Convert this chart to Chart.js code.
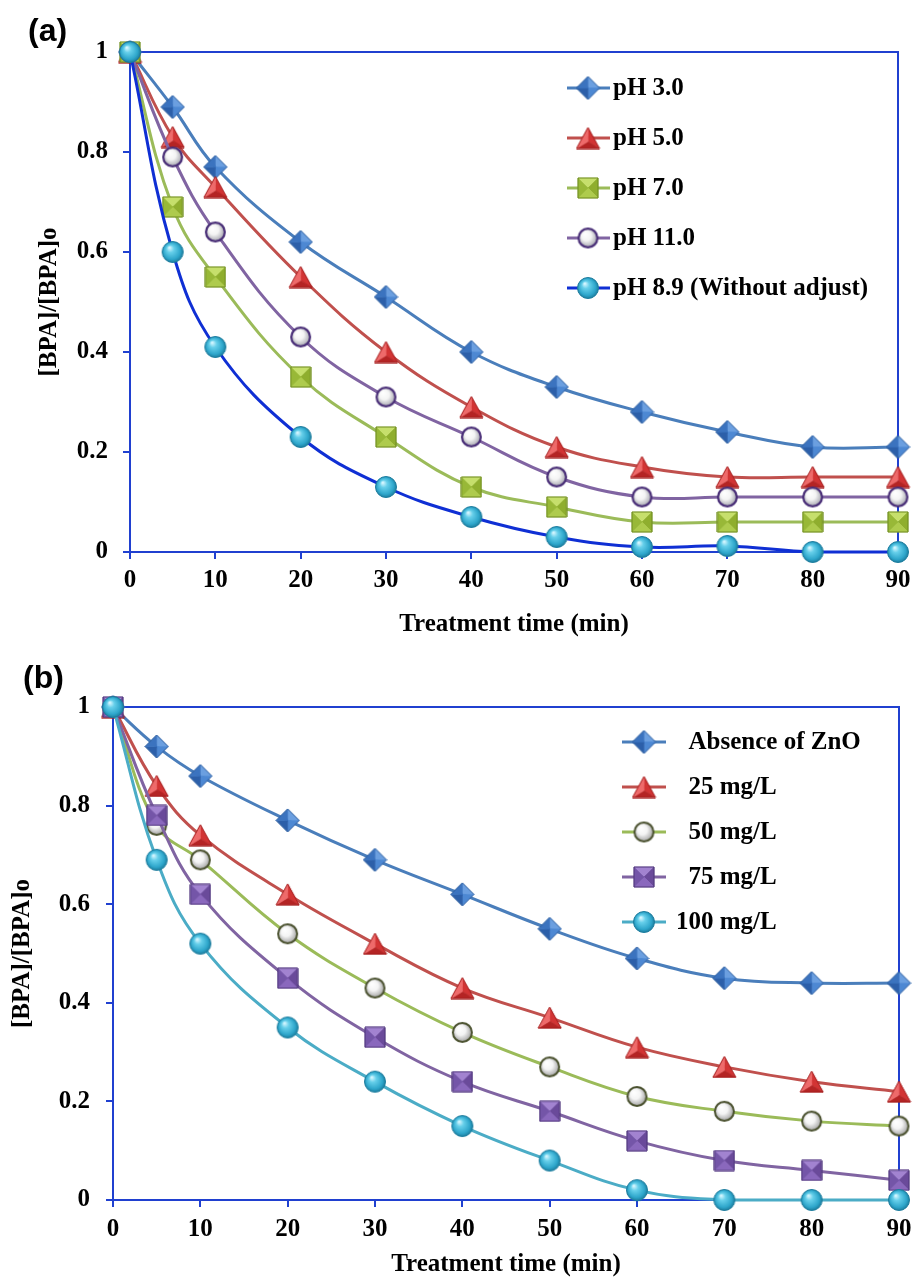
<!DOCTYPE html>
<html><head><meta charset="utf-8">
<script src="https://cdn.jsdelivr.net/npm/chart.js@4.4.0/dist/chart.umd.min.js"></script>
<style>
html,body{margin:0;padding:0;background:#fff;}
#wa{position:absolute;left:0;top:0;width:912px;height:645px;}
#wb{position:absolute;left:0;top:645px;width:912px;height:633px;}
</style></head><body>
<div id="wa"><canvas id="ca"></canvas></div>
<div id="wb"><canvas id="cb"></canvas></div>
<script>
// ---------- data ----------
const time = [0, 5, 10, 20, 30, 40, 50, 60, 70, 80, 90];
const xTickValues = [0, 10, 20, 30, 40, 50, 60, 70, 80, 90];
const yTickValues = [0, 0.2, 0.4, 0.6, 0.8, 1];
const yTickLabels = ['0', '0.2', '0.4', '0.6', '0.8', '1'];

// panel (a): effect of pH
const labelsA = ['pH 3.0', 'pH 5.0', 'pH 7.0', 'pH 11.0', 'pH 8.9 (Without adjust)'];
const pH30  = [1, 0.89, 0.77, 0.62, 0.51, 0.40, 0.33, 0.28, 0.24, 0.21, 0.21];
const pH50  = [1, 0.83, 0.73, 0.55, 0.40, 0.29, 0.21, 0.17, 0.15, 0.15, 0.15];
const pH70  = [1, 0.69, 0.55, 0.35, 0.23, 0.13, 0.09, 0.06, 0.06, 0.06, 0.06];
const pH110 = [1, 0.79, 0.64, 0.43, 0.31, 0.23, 0.15, 0.11, 0.11, 0.11, 0.11];
const pH89  = [1, 0.60, 0.41, 0.23, 0.13, 0.07, 0.03, 0.01, 0.012, 0, 0];

// panel (b): effect of ZnO dose
const labelsB = ['  Absence of ZnO', '  25 mg/L', '  50 mg/L', '  75 mg/L', '100 mg/L'];
const znO0   = [1, 0.92, 0.86, 0.77, 0.69, 0.62, 0.55, 0.49, 0.45, 0.44, 0.44];
const znO25  = [1, 0.84, 0.74, 0.62, 0.52, 0.43, 0.37, 0.31, 0.27, 0.24, 0.22];
const znO50  = [1, 0.76, 0.69, 0.54, 0.43, 0.34, 0.27, 0.21, 0.18, 0.16, 0.15];
const znO75  = [1, 0.78, 0.62, 0.45, 0.33, 0.24, 0.18, 0.12, 0.08, 0.06, 0.04];
const znO100 = [1, 0.69, 0.52, 0.35, 0.24, 0.15, 0.08, 0.02, 0, 0, 0];

// ---------- marker images ----------
function facetShape(w, h, pts, center, colors, outline) {
  const c = document.createElement('canvas'); c.width = w; c.height = h;
  const g = c.getContext('2d');
  for (let i = 0; i < pts.length; i++) {
    const a = pts[i], b = pts[(i + 1) % pts.length];
    g.beginPath(); g.moveTo(a[0], a[1]); g.lineTo(b[0], b[1]); g.lineTo(center[0], center[1]); g.closePath();
    g.fillStyle = colors[i]; g.fill();
    g.strokeStyle = colors[i]; g.lineWidth = 0.6; g.stroke();
  }
  g.beginPath(); g.moveTo(pts[0][0], pts[0][1]);
  for (let i = 1; i < pts.length; i++) g.lineTo(pts[i][0], pts[i][1]);
  g.closePath(); g.strokeStyle = outline; g.lineWidth = 1; g.stroke();
  return c;
}
function diamond(cols, outline) {
  return facetShape(25, 25, [[12.5, 1], [24, 12.5], [12.5, 24], [1, 12.5]], [12.5, 12.5], cols, outline);
}
function triangle(cols, outline) {
  return facetShape(25, 23, [[12.5, 1], [24, 22], [1, 22]], [12.5, 15], cols, outline);
}
function square(cols, outline) {
  return facetShape(22, 22, [[1, 1], [21, 1], [21, 21], [1, 21]], [11, 11], cols, outline);
}
function sphere(d, stops, stroke, lw) {
  const s = d + 2; const c = document.createElement('canvas'); c.width = s; c.height = s;
  const g = c.getContext('2d'); const r = d / 2, cx = s / 2, cy = s / 2;
  const gr = g.createRadialGradient(cx - r * 0.3, cy - r * 0.4, r * 0.05, cx, cy, r);
  stops.forEach(st => gr.addColorStop(st[0], st[1]));
  g.beginPath(); g.arc(cx, cy, r - lw / 2, 0, Math.PI * 2); g.fillStyle = gr; g.fill();
  g.lineWidth = lw; g.strokeStyle = stroke; g.stroke();
  return c;
}
const mDiamond = diamond(['#6b9fe0', '#4d88d3', '#2c5fa9', '#3b73bf'], '#2f5f9f');
const mTriangle = triangle(['#d23434', '#b42424', '#ee6a6a'], '#a42020');
const mSquareG = square(['#c6df6c', '#8fae2e', '#aecb4d', '#98b837'], '#6e8a22');
const mSquareP = square(['#a283d0', '#6a4a9a', '#8a68bd', '#7455a8'], '#4f3778');
const mWhiteP = sphere(21, [[0, '#ffffff'], [0.45, '#f4f4f4'], [0.8, '#b9b9c0'], [1, '#7c7a88']], '#4a2f78', 2.2);
const mWhiteG = sphere(21, [[0, '#ffffff'], [0.45, '#f4f4f4'], [0.8, '#b9b9b9'], [1, '#808070']], '#4b5230', 2);
const mCyan = sphere(22, [[0, '#d4f6ff'], [0.3, '#66cfea'], [0.75, '#2ea6cb'], [1, '#1a7898']], '#1d7d9e', 1);

// ---------- helpers ----------
const AXIS = '#2040d0';
const serif = "'Liberation Serif', 'Times New Roman', serif";
function pts(arr) { return time.map((t, i) => ({ x: t, y: arr[i] })); }
function ds(label, arr, color, img, order) {
  return { label, data: pts(arr), borderColor: color, backgroundColor: color, borderWidth: 3,
    tension: 0.4, pointStyle: img, pointRadius: 10, pointHoverRadius: 10, clip: false, order, fill: false };
}

const boxLegendPlugin = {
  id: 'boxLegend',
  beforeDatasetsDraw(chart) {
    const a = chart.chartArea, ctx = chart.ctx;
    ctx.save(); ctx.strokeStyle = AXIS; ctx.lineWidth = 2;
    ctx.beginPath(); ctx.moveTo(a.left, a.top); ctx.lineTo(a.right, a.top); ctx.lineTo(a.right, a.bottom); ctx.stroke();
    ctx.restore();
  },
  afterDraw(chart, args, o) {
    const ctx = chart.ctx; ctx.save();
    ctx.font = "bold 32px 'Liberation Sans', Arial, sans-serif"; ctx.fillStyle = '#000';
    ctx.textBaseline = 'alphabetic'; ctx.fillText(o.panel, o.px, o.py);
    ctx.font = 'bold 25px ' + serif; ctx.textBaseline = 'middle';
    chart.data.datasets.forEach((d, i) => {
      const y = o.y0 + i * o.dy;
      ctx.strokeStyle = d.borderColor; ctx.lineWidth = 3;
      ctx.beginPath(); ctx.moveTo(o.x0, y); ctx.lineTo(o.x1, y); ctx.stroke();
      const im = d.pointStyle; ctx.drawImage(im, o.mx - im.width / 2, y - im.height / 2);
      ctx.fillStyle = '#000'; ctx.fillText(d.label, o.tx, y + 1);
    });
    ctx.restore();
  }
};

function makeChart(id, datasets, cfg) {
  return new Chart(document.getElementById(id), {
    type: 'line',
    data: { datasets },
    plugins: [boxLegendPlugin],
    options: {
      responsive: true, maintainAspectRatio: false, animation: false, events: [],
      layout: { padding: { top: cfg.top, right: cfg.right, left: 0, bottom: 0 } },
      plugins: { legend: { display: false }, tooltip: { enabled: false }, boxLegend: cfg.legend },
      scales: {
        x: {
          type: 'linear', min: 0, max: 90,
          afterBuildTicks: s => { s.ticks = xTickValues.map(v => ({ value: v })); },
          afterFit: s => { s.height = cfg.xh; s.paddingLeft = 0; s.paddingRight = 0; },
          ticks: { autoSkip: false, maxRotation: 0, padding: cfg.xtp, color: '#000',
            font: { family: serif, size: 25, weight: 'bold', lineHeight: 1 }, callback: v => String(v) },
          grid: { drawOnChartArea: false, drawTicks: true, tickLength: 7, color: AXIS, lineWidth: 2 },
          border: { color: AXIS, width: 2 },
          title: { display: true, text: 'Treatment time (min)', color: '#000',
            font: { family: serif, size: 25, weight: 'bold', lineHeight: 1 }, padding: { top: 0, bottom: cfg.xtb } }
        },
        y: {
          type: 'linear', min: 0, max: 1,
          afterBuildTicks: s => { s.ticks = yTickValues.map(v => ({ value: v })); },
          afterFit: s => { s.width = cfg.yw; s.paddingTop = 0; s.paddingBottom = 0; },
          ticks: { autoSkip: false, padding: cfg.ytp, color: '#000',
            font: { family: serif, size: 25, weight: 'bold', lineHeight: 1 },
            callback: v => yTickLabels[yTickValues.findIndex(t => Math.abs(t - v) < 1e-6)] },
          grid: { drawOnChartArea: false, drawTicks: true, tickLength: 7, color: AXIS, lineWidth: 2 },
          border: { color: AXIS, width: 2 },
          title: { display: true, text: '[BPA]/[BPA]o', color: '#000',
            font: { family: serif, size: 25, weight: 'bold', lineHeight: 1 }, padding: { top: cfg.ytt, bottom: 0 } }
        }
      }
    }
  });
}

makeChart('ca', [
  ds(labelsA[0], pH30, '#4a7ebb', mDiamond, 5),
  ds(labelsA[1], pH50, '#c0504d', mTriangle, 4),
  ds(labelsA[2], pH70, '#9bbb59', mSquareG, 3),
  ds(labelsA[3], pH110, '#8064a2', mWhiteP, 2),
  ds(labelsA[4], pH89, '#0f2fd4', mCyan, 1)
], { top: 52, right: 14, xh: 93, yw: 130, xtp: 9.5, xtb: 7.5, ytp: 15, ytt: 37.5,
  legend: { panel: '(a)', px: 28, py: 41, x0: 567, x1: 610, mx: 588, tx: 613, y0: 88, dy: 50 } });

makeChart('cb', [
  ds(labelsB[0], znO0, '#4a7ebb', mDiamond, 5),
  ds(labelsB[1], znO25, '#c0504d', mTriangle, 4),
  ds(labelsB[2], znO50, '#9bbb59', mWhiteG, 3),
  ds(labelsB[3], znO75, '#8064a2', mSquareP, 2),
  ds(labelsB[4], znO100, '#4bacc6', mCyan, 1)
], { top: 62, right: 13, xh: 78, yw: 113, xtp: 10.5, xtb: 1, ytp: 16, ytt: 10.5,
  legend: { panel: '(b)', px: 23, py: 43, x0: 622, x1: 666, mx: 644, tx: 676, y0: 97, dy: 45 } });
</script>
</body></html>
